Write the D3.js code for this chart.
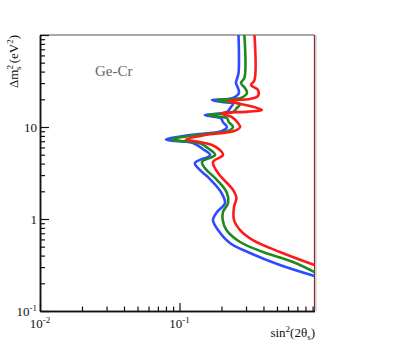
<!DOCTYPE html>
<html>
<head>
<meta charset="utf-8">
<script src="https://cdn.jsdelivr.net/npm/d3@7"></script>
<style>
  body { margin: 0; background: #fff; }
  text { font-family: "Liberation Serif", "DejaVu Serif", serif; }
</style>
</head>
<body>
<div id="chart"></div>
<script>
// exclusion contours, [sin^2(2theta), dm^2]
const blueCurve = [
  [0.265, 100], [0.265, 38.6], [0.258, 33.2], [0.254, 30.1], [0.263, 26.5], [0.267, 23.4],
  [0.242, 20.7], [0.171, 19.6], [0.202, 18.7], [0.242, 18.0], [0.234, 16.5], [0.219, 14.6],
  [0.152, 13.5], [0.171, 13.0], [0.198, 12.5], [0.205, 11.3], [0.219, 10.0], [0.202, 9.05],
  [0.119, 8.18], [0.080, 7.31], [0.093, 7.04], [0.125, 6.70], [0.147, 5.77], [0.166, 4.96],
  [0.129, 4.06], [0.140, 3.41], [0.160, 2.86], [0.198, 1.97], [0.212, 1.49], [0.186, 1.19],
  [0.174, 0.975], [0.189, 0.759], [0.230, 0.548], [0.320, 0.427], [0.525, 0.316], [0.929, 0.240]
];
const greenCurve = [
  [0.292, 100], [0.292, 34.1], [0.276, 30.1], [0.295, 26.5], [0.305, 23.4], [0.276, 20.7],
  [0.186, 19.6], [0.223, 18.7], [0.272, 17.8], [0.258, 16.1], [0.242, 14.6], [0.163, 13.5],
  [0.189, 13.0], [0.219, 12.5], [0.226, 11.3], [0.242, 10.0], [0.223, 9.05], [0.131, 8.18],
  [0.088, 7.31], [0.103, 7.04], [0.138, 6.70], [0.163, 5.77], [0.180, 4.96], [0.145, 4.17],
  [0.152, 3.58], [0.186, 2.65], [0.219, 1.92], [0.223, 1.49], [0.205, 1.19], [0.204, 0.975],
  [0.217, 0.759], [0.272, 0.562], [0.397, 0.438], [0.651, 0.341], [0.929, 0.265]
];
const redCurve = [
  [0.345, 100], [0.345, 32.4], [0.326, 28.6], [0.365, 25.3], [0.365, 21.7], [0.320, 20.2],
  [0.223, 19.2], [0.254, 18.2], [0.320, 16.9], [0.390, 15.3], [0.310, 14.7], [0.202, 14.0],
  [0.238, 12.8], [0.263, 11.0], [0.272, 10.0], [0.246, 9.05], [0.152, 8.18], [0.111, 7.31],
  [0.127, 7.04], [0.171, 6.37], [0.195, 5.62], [0.205, 4.96], [0.174, 4.17], [0.189, 3.16],
  [0.242, 2.07], [0.256, 1.69], [0.246, 1.35], [0.246, 0.975], [0.272, 0.759], [0.336, 0.591],
  [0.525, 0.438], [0.929, 0.316]
];

const xMajor = [0.01, 0.1];
const xMinor = [0.02, 0.03, 0.04, 0.05, 0.06, 0.07, 0.08, 0.09, 0.2, 0.3, 0.4, 0.5, 0.6, 0.7, 0.8, 0.9];
const yMajor = [0.1, 1, 10, 100];
const yMinor = [0.2, 0.3, 0.4, 0.5, 0.6, 0.7, 0.8, 0.9, 2, 3, 4, 5, 6, 7, 8, 9, 20, 30, 40, 50, 60, 70, 80, 90];
const xLabels = [{ v: 0.01, base: "10", exp: "-2" }, { v: 0.1, base: "10", exp: "-1" }];
const yLabels = [{ v: 0.1, base: "10", exp: "-1" }, { v: 1, base: "1", exp: "" }, { v: 10, base: "10", exp: "" }];

const width = 395, height = 346;
const plotL = 40, plotR = 314.5, plotT = 35, plotB = 311;

const svg = d3.select("#chart").append("svg")
  .attr("width", width)
  .attr("height", height);

const x = d3.scaleLog().domain([0.01, 0.929]).range([plotL, plotR]);
const y = d3.scaleLog().domain([0.1, 100]).range([plotB, plotT]);

// frame
svg.append("line").attr("x1", plotL).attr("x2", plotR).attr("y1", plotT).attr("y2", plotT)
  .attr("stroke", "#555").attr("stroke-width", 1.2);
svg.append("line").attr("x1", plotR + 1.5).attr("x2", plotR + 1.5).attr("y1", plotT).attr("y2", plotB)
  .attr("stroke", "#bbb").attr("stroke-width", 1);
svg.append("line").attr("x1", plotR).attr("x2", plotR).attr("y1", plotT).attr("y2", plotB)
  .attr("stroke", "#7a2e2e").attr("stroke-width", 1.2);

// curves
const line = d3.line()
  .x(d => x(d[0]))
  .y(d => y(d[1]))
  .curve(d3.curveCatmullRom.alpha(0.5));

const g = svg.append("g");
[[blueCurve, "#2f4bff"], [greenCurve, "#1e8a1e"], [redCurve, "#ff1a1a"]].forEach(([data, color]) => {
  g.append("path")
    .datum(data)
    .attr("d", line)
    .attr("fill", "none")
    .attr("stroke", color)
    .attr("stroke-width", 2.6)
    .attr("stroke-linejoin", "round");
});

// axes (ticks pointing inward)
const xAxisMajor = d3.axisBottom(x).tickValues(xMajor).tickFormat("").tickSizeInner(-8).tickSizeOuter(0);
const xAxisMinor = d3.axisBottom(x).tickValues(xMinor).tickFormat("").tickSizeInner(-4.5).tickSizeOuter(0);
const yAxisMajor = d3.axisLeft(y).tickValues(yMajor).tickFormat("").tickSizeInner(-9).tickSizeOuter(0);
const yAxisMinor = d3.axisLeft(y).tickValues(yMinor).tickFormat("").tickSizeInner(-5).tickSizeOuter(0);

[xAxisMajor, xAxisMinor].forEach(ax => {
  svg.append("g").attr("transform", `translate(0,${plotB})`).call(ax)
    .call(s => s.select(".domain").attr("stroke", "#111").attr("stroke-width", 1.5))
    .call(s => s.selectAll(".tick line").attr("stroke", "#111").attr("stroke-width", 1.2));
});
[yAxisMajor, yAxisMinor].forEach(ax => {
  svg.append("g").attr("transform", `translate(${plotL},0)`).call(ax)
    .call(s => s.select(".domain").attr("stroke", "#111").attr("stroke-width", 1.5))
    .call(s => s.selectAll(".tick line").attr("stroke", "#111").attr("stroke-width", 1.2));
});

// tick labels
xLabels.forEach(d => {
  const t = svg.append("text")
    .attr("x", x(d.v)).attr("y", 328)
    .attr("text-anchor", "middle")
    .attr("font-size", 13).attr("fill", "#111");
  t.append("tspan").text(d.base);
  t.append("tspan").attr("dy", -5).attr("font-size", 9).text(d.exp);
});
yLabels.forEach(d => {
  const t = svg.append("text")
    .attr("x", 37).attr("y", y(d.v) + 4.5)
    .attr("text-anchor", "end")
    .attr("font-size", 13).attr("fill", "#111");
  t.append("tspan").text(d.base);
  if (d.exp) t.append("tspan").attr("dy", -5).attr("font-size", 9).text(d.exp);
});

// x title
const xt = svg.append("text")
  .attr("x", 315).attr("y", 337)
  .attr("text-anchor", "end")
  .attr("font-size", 13).attr("fill", "#111");
xt.append("tspan").text("sin");
xt.append("tspan").attr("dy", -5).attr("font-size", 9).text("2");
xt.append("tspan").attr("dy", 5).text("(2θ");
xt.append("tspan").attr("dy", 3).attr("font-size", 9).text("s");
xt.append("tspan").attr("dy", -3).text(")");

// y title
const yt = svg.append("text")
  .attr("transform", "translate(18,35) rotate(-90)")
  .attr("text-anchor", "end")
  .attr("font-size", 13).attr("fill", "#111");
yt.append("tspan").text("Δm");
yt.append("tspan").attr("dy", -5).attr("font-size", 9).text("2");
yt.append("tspan").attr("dx", -5).attr("dy", 8).attr("font-size", 9).text("s");
yt.append("tspan").attr("dy", -3).text(" (eV");
yt.append("tspan").attr("dy", -5).attr("font-size", 9).text("2");
yt.append("tspan").attr("dy", 5).text(")");

// label
svg.append("text")
  .attr("x", 95).attr("y", 76)
  .attr("font-size", 15).attr("fill", "#66696c")
  .text("Ge-Cr");
</script>
</body>
</html>
